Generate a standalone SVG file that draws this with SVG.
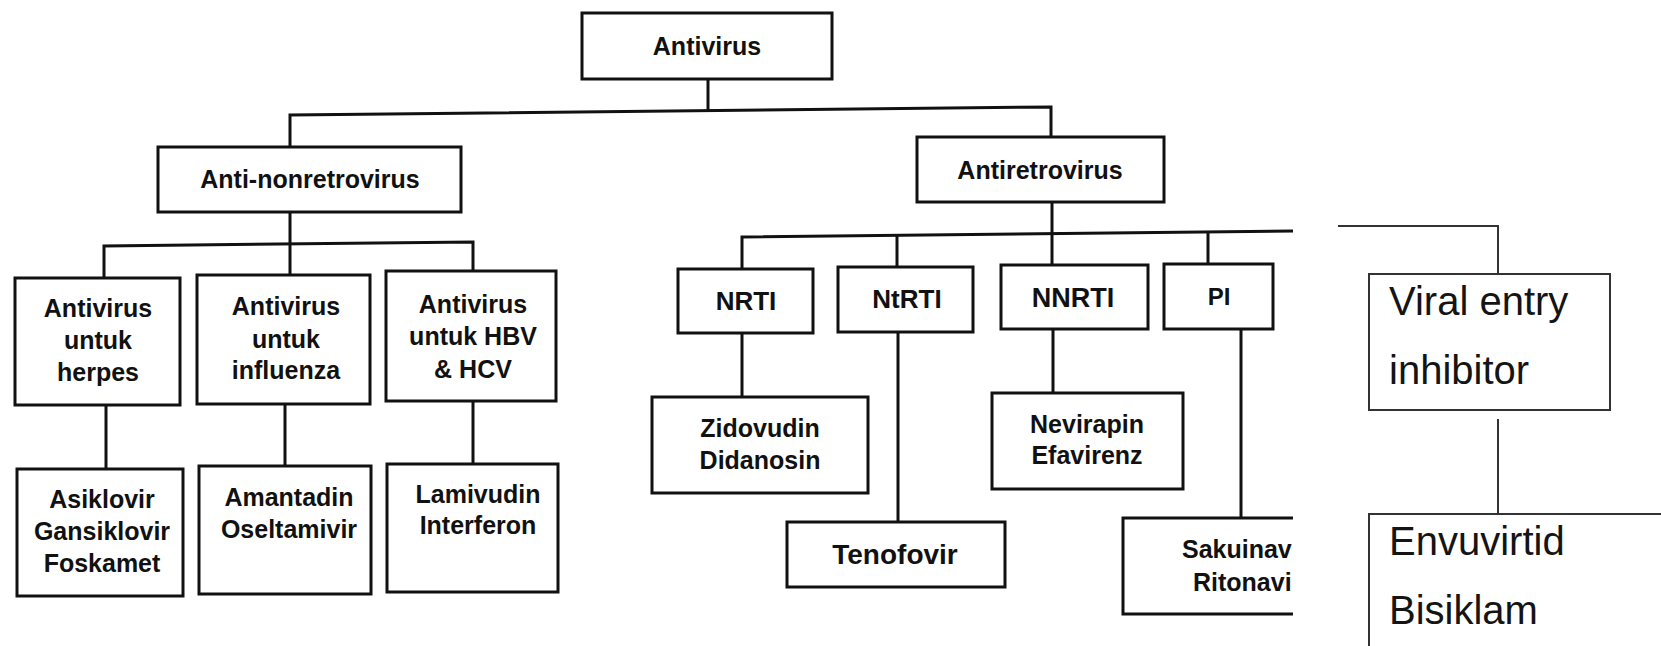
<svg xmlns="http://www.w3.org/2000/svg" width="1661" height="646" viewBox="0 0 1661 646">
<defs>
<style>
.box{fill:#fff;stroke:#111;stroke-width:3}
.open{fill:none;stroke:#111;stroke-width:3}
.ln{fill:none;stroke:#111;stroke-width:3}
.thin{fill:none;stroke:#333;stroke-width:2}
.thinbox{fill:#fff;stroke:#333;stroke-width:2}
.t{font-family:"Liberation Sans",Arial,Helvetica,sans-serif;font-weight:bold;font-size:25px;fill:#111;text-anchor:middle}
.ts{font-family:"Liberation Sans",Arial,Helvetica,sans-serif;font-weight:bold;font-size:25px;fill:#111}
.r{font-family:"Liberation Sans",Arial,Helvetica,sans-serif;font-size:40px;fill:#141414}
</style>
<clipPath id="cut"><rect x="0" y="0" width="1293" height="646"/></clipPath>
</defs>
<rect x="0" y="0" width="1661" height="646" fill="#fff"/>

<g id="connectors">
<path class="ln" d="M708,80 L708,111"/>
<path class="ln" d="M290,147 L290,115 L1051,107 L1051,137"/>
<path class="ln" d="M290,212 L290,275"/>
<path class="ln" d="M104,278 L104,246 L473,242 L473,271"/>
<path class="ln" d="M106,405 L106,469"/>
<path class="ln" d="M285,404 L285,466"/>
<path class="ln" d="M473,401 L473,464"/>
<path class="ln" d="M1052,202 L1052,265"/>
<path class="ln" d="M742,269 L742,237 L1293,231"/>
<path class="ln" d="M897,234 L897,267"/>
<path class="ln" d="M1208,232 L1208,264"/>
<path class="ln" d="M742,333 L742,397"/>
<path class="ln" d="M898,331 L898,522"/>
<path class="ln" d="M1053,329 L1053,393"/>
<path class="ln" d="M1241,329 L1241,518"/>
<path class="thin" d="M1338,226 L1498,226 L1498,274"/>
<path class="thin" d="M1498,419 L1498,514"/>
</g>

<g id="antivirus">
<rect class="box" x="582" y="13" width="250" height="66"/>
<text class="t" x="707" y="55">Antivirus</text>
</g>
<g id="anti-nonretrovirus">
<rect class="box" x="158" y="147" width="303" height="65"/>
<text class="t" x="310" y="188">Anti-nonretrovirus</text>
</g>
<g id="antiretrovirus">
<rect class="box" x="917" y="137" width="247" height="65"/>
<text class="t" x="1040" y="179">Antiretrovirus</text>
</g>

<g id="herpes">
<rect class="box" x="15" y="278" width="165" height="127"/>
<text class="t" x="98" y="317">Antivirus</text>
<text class="t" x="98" y="349">untuk</text>
<text class="t" x="98" y="381">herpes</text>
</g>
<g id="influenza">
<rect class="box" x="197" y="275" width="173" height="129"/>
<text class="t" x="286" y="315">Antivirus</text>
<text class="t" x="286" y="348">untuk</text>
<text class="t" x="286" y="379">influenza</text>
</g>
<g id="hbv-hcv">
<rect class="box" x="386" y="271" width="170" height="130"/>
<text class="t" x="473" y="313">Antivirus</text>
<text class="t" x="473" y="345">untuk HBV</text>
<text class="t" x="473" y="378">&amp; HCV</text>
</g>

<g id="asiklovir">
<rect class="box" x="17" y="469" width="166" height="127"/>
<text class="t" x="102" y="508">Asiklovir</text>
<text class="t" x="102" y="540">Gansiklovir</text>
<text class="t" x="102" y="572">Foskamet</text>
</g>
<g id="amantadin">
<rect class="box" x="199" y="466" width="172" height="128"/>
<text class="t" x="289" y="506">Amantadin</text>
<text class="t" x="289" y="538">Oseltamivir</text>
</g>
<g id="lamivudin">
<rect class="box" x="387" y="464" width="171" height="128"/>
<text class="t" x="478" y="503">Lamivudin</text>
<text class="t" x="478" y="534">Interferon</text>
</g>

<g id="nrti">
<rect class="box" x="678" y="269" width="135" height="64"/>
<text class="t" x="746" y="310" style="font-size:26px">NRTI</text>
</g>
<g id="ntrti">
<rect class="box" x="838" y="267" width="135" height="65"/>
<text class="t" x="907" y="308" style="font-size:26px">NtRTI</text>
</g>
<g id="nnrti">
<rect class="box" x="1001" y="265" width="147" height="64"/>
<text class="t" x="1073" y="307" style="font-size:27px">NNRTI</text>
</g>
<g id="pi">
<rect class="box" x="1164" y="264" width="109" height="65"/>
<text class="t" x="1219" y="305" style="font-size:24px">PI</text>
</g>

<g id="zidovudin">
<rect class="box" x="652" y="397" width="216" height="96"/>
<text class="t" x="760" y="437">Zidovudin</text>
<text class="t" x="760" y="469">Didanosin</text>
</g>
<g id="nevirapin">
<rect class="box" x="992" y="393" width="191" height="96"/>
<text class="t" x="1087" y="433">Nevirapin</text>
<text class="t" x="1087" y="464">Efavirenz</text>
</g>
<g id="tenofovir">
<rect class="box" x="787" y="522" width="218" height="65"/>
<text class="t" x="895" y="564" style="font-size:28px">Tenofovir</text>
</g>
<g id="sakuinavir" clip-path="url(#cut)">
<path class="open" d="M1293,518 L1123,518 L1123,614 L1293,614"/>
<text class="ts" x="1182" y="558">Sakuinav</text>
<text class="ts" x="1193" y="591">Ritonavi</text>
</g>

<g id="viral-entry">
<rect class="thinbox" x="1369" y="274" width="241" height="136"/>
<text class="r" x="1389" y="315">Viral entry</text>
<text class="r" x="1389" y="384">inhibitor</text>
</g>
<g id="envuvirtid">
<path class="thin" d="M1369,650 L1369,514 L1665,514"/>
<text class="r" x="1389" y="555">Envuvirtid</text>
<text class="r" x="1389" y="624">Bisiklam</text>
</g>
</svg>
